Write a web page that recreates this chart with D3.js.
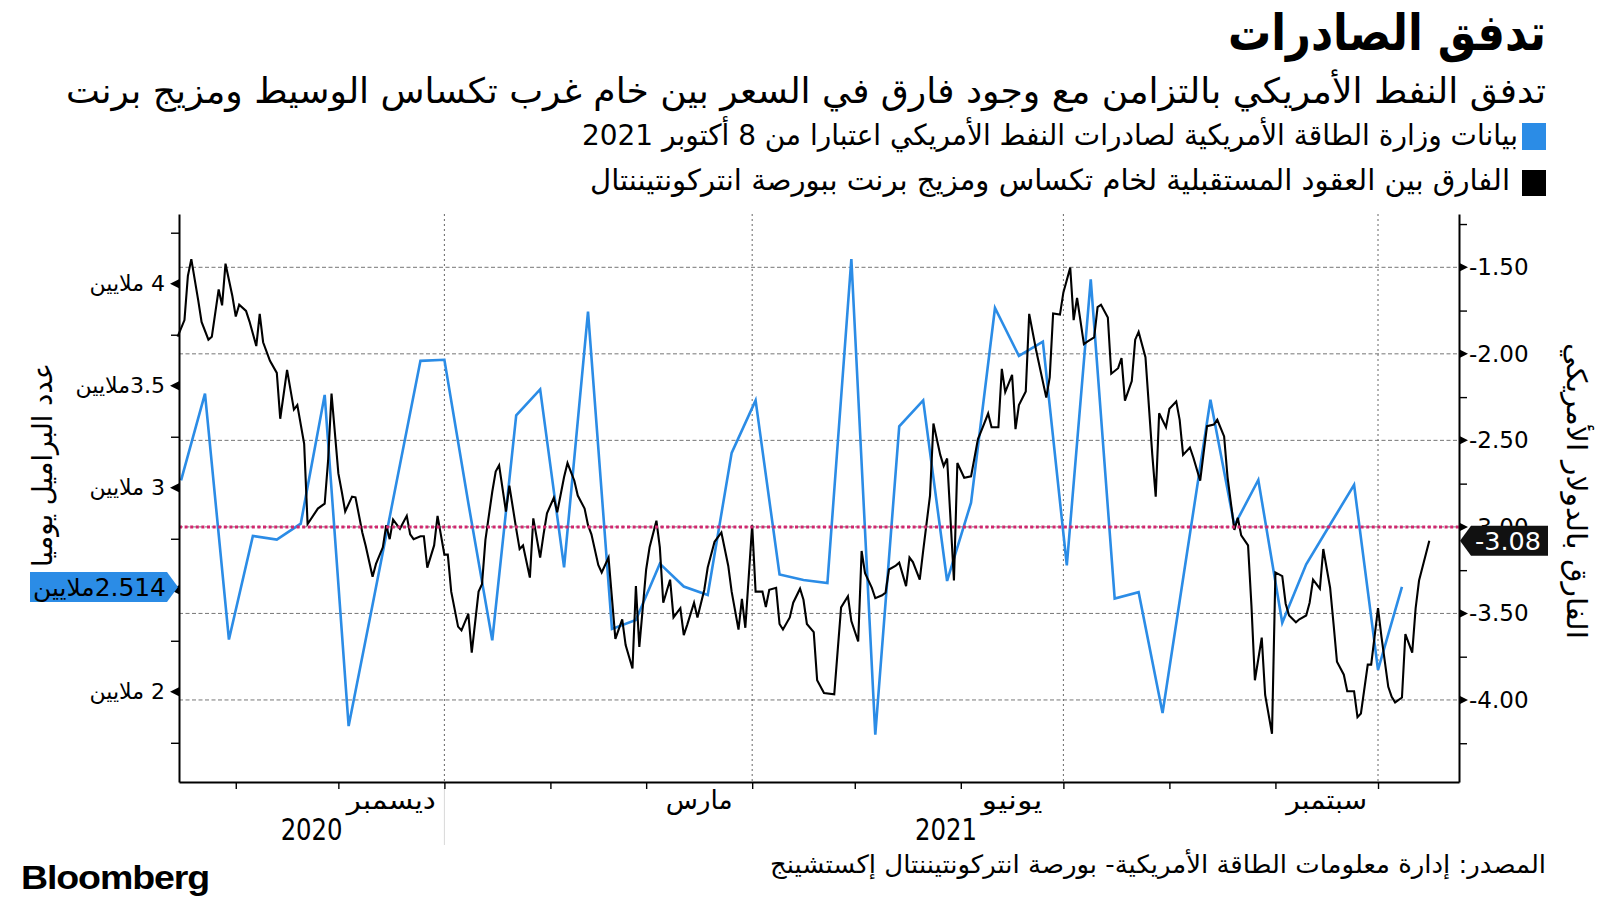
<!DOCTYPE html>
<html><head><meta charset="utf-8">
<script src="https://cdn.jsdelivr.net/npm/d3@7"></script>
<style>
body{margin:0;background:#fff;}
svg{display:block;}
text{font-family:"DejaVu Sans",sans-serif;}
.rtl{direction:rtl;unicode-bidi:embed;}
</style></head><body>
<svg id="chart" width="1600" height="900"></svg>
<script>
// ---------- DATA ----------
const exportDates = ["2020-10-16","2020-10-23","2020-10-30","2020-11-06","2020-11-13","2020-11-20","2020-11-27","2020-12-04","2020-12-11","2020-12-18","2020-12-25",
"2021-01-01","2021-01-08","2021-01-15","2021-01-22","2021-01-29","2021-02-05","2021-02-12","2021-02-19","2021-02-26","2021-03-05","2021-03-12","2021-03-19","2021-03-26",
"2021-04-02","2021-04-09","2021-04-16","2021-04-23","2021-04-30","2021-05-07","2021-05-14","2021-05-21","2021-05-28","2021-06-04","2021-06-11","2021-06-18","2021-06-25",
"2021-07-02","2021-07-09","2021-07-16","2021-07-23","2021-07-30","2021-08-06","2021-08-13","2021-08-20","2021-08-27","2021-09-03","2021-09-10","2021-09-17","2021-09-24",
"2021-10-01","2021-10-08"];
const exportValues = [3.036,3.461,2.256,2.764,2.746,2.824,3.455,1.832,2.427,3.027,3.622,3.627,2.925,2.252,3.355,3.482,2.610,3.863,2.308,2.352,
2.628,2.516,2.474,3.171,3.428,2.575,2.548,2.533,4.121,1.790,3.301,3.428,2.543,2.927,3.881,3.646,3.716,2.619,4.021,2.457,
2.488,1.896,2.664,3.431,2.815,3.038,2.338,2.625,2.820,3.014,2.107,2.514];

const spreadDates = [
"2020-10-15","2020-10-17","2020-10-18","2020-10-19","2020-10-21","2020-10-22","2020-10-24","2020-10-25","2020-10-27","2020-10-28","2020-10-29","2020-10-31",
"2020-11-01","2020-11-02","2020-11-04","2020-11-05","2020-11-07","2020-11-08","2020-11-09","2020-11-11","2020-11-13","2020-11-14","2020-11-16","2020-11-18","2020-11-19","2020-11-21","2020-11-22","2020-11-25","2020-11-27","2020-11-28","2020-11-29",
"2020-12-01","2020-12-02","2020-12-03","2020-12-05","2020-12-06","2020-12-08","2020-12-09","2020-12-11","2020-12-12","2020-12-14","2020-12-15","2020-12-16","2020-12-17","2020-12-19","2020-12-21","2020-12-22","2020-12-23","2020-12-25","2020-12-26","2020-12-27","2020-12-29","2020-12-30",
"2021-01-01","2021-01-02","2021-01-03","2021-01-05","2021-01-06","2021-01-08","2021-01-09","2021-01-11","2021-01-12","2021-01-13","2021-01-15","2021-01-16","2021-01-17","2021-01-19","2021-01-20","2021-01-22","2021-01-23","2021-01-24","2021-01-26","2021-01-27","2021-01-29","2021-01-30","2021-01-31",
"2021-02-02","2021-02-03","2021-02-05","2021-02-06","2021-02-08","2021-02-09","2021-02-11","2021-02-12","2021-02-13","2021-02-15","2021-02-16","2021-02-18","2021-02-20","2021-02-22","2021-02-23","2021-02-25","2021-02-26","2021-02-27",
"2021-03-01","2021-03-02","2021-03-04","2021-03-05","2021-03-06","2021-03-08","2021-03-09","2021-03-11","2021-03-12","2021-03-13","2021-03-15","2021-03-16","2021-03-18","2021-03-19","2021-03-21","2021-03-23","2021-03-25","2021-03-26","2021-03-28","2021-03-29","2021-03-30",
"2021-04-01","2021-04-02","2021-04-04","2021-04-05","2021-04-06","2021-04-08","2021-04-09","2021-04-10","2021-04-12","2021-04-13","2021-04-15","2021-04-16","2021-04-17","2021-04-19","2021-04-20","2021-04-22","2021-04-25","2021-04-26","2021-04-27","2021-04-29","2021-04-30",
"2021-05-02","2021-05-03","2021-05-04","2021-05-06","2021-05-07","2021-05-09","2021-05-10","2021-05-11","2021-05-13","2021-05-14","2021-05-16","2021-05-17","2021-05-18","2021-05-20","2021-05-21","2021-05-23","2021-05-24","2021-05-26","2021-05-27","2021-05-28","2021-05-30","2021-05-31",
"2021-06-02","2021-06-04","2021-06-06","2021-06-07","2021-06-09","2021-06-10","2021-06-12","2021-06-13","2021-06-14","2021-06-16","2021-06-17","2021-06-18","2021-06-20","2021-06-21","2021-06-23","2021-06-26","2021-06-27","2021-06-28","2021-06-30",
"2021-07-01","2021-07-03","2021-07-04","2021-07-05","2021-07-07","2021-07-08","2021-07-10","2021-07-11","2021-07-12","2021-07-14","2021-07-15","2021-07-17","2021-07-18","2021-07-19","2021-07-21","2021-07-22","2021-07-23","2021-07-25","2021-07-27","2021-07-28","2021-07-29","2021-07-31",
"2021-08-01","2021-08-03","2021-08-04","2021-08-05","2021-08-07","2021-08-08","2021-08-10","2021-08-11","2021-08-12","2021-08-14","2021-08-15","2021-08-17","2021-08-18","2021-08-20","2021-08-21","2021-08-22","2021-08-24","2021-08-25","2021-08-26","2021-08-28","2021-08-29","2021-08-31",
"2021-09-01","2021-09-03","2021-09-04","2021-09-05","2021-09-07","2021-09-08","2021-09-10","2021-09-11","2021-09-12","2021-09-14","2021-09-15","2021-09-17","2021-09-18","2021-09-19","2021-09-21","2021-09-22","2021-09-24","2021-09-25","2021-09-26","2021-09-28","2021-09-29",
"2021-10-01","2021-10-02","2021-10-04","2021-10-05","2021-10-06","2021-10-08","2021-10-09","2021-10-11","2021-10-12","2021-10-13","2021-10-16"];
const spreadValues = [
-1.901,-1.805,-1.549,-1.453,-1.688,-1.816,-1.918,-1.901,-1.628,-1.720,-1.479,-1.666,
-1.784,-1.716,-1.752,-1.812,-1.955,-1.769,-1.933,-2.040,-2.110,-2.375,-2.093,-2.322,-2.296,-2.520,-2.983,-2.894,-2.866,-2.616,-2.230,
-2.691,-2.797,-2.911,-2.825,-2.829,-3.032,-3.111,-3.288,-3.214,-3.118,-2.990,-3.071,-2.958,-3.011,-2.936,-3.043,-3.071,-3.054,-3.054,-3.235,-3.107,-2.936,
-3.160,-3.160,-3.374,-3.576,-3.598,-3.502,-3.726,-3.374,-3.331,-3.075,-2.797,-2.680,-2.644,-2.911,-2.761,-3.011,-3.128,-3.107,-3.293,-2.951,-3.177,-3.043,-2.921,
-2.832,-2.915,-2.712,-2.631,-2.733,-2.819,-2.894,-2.990,-3.043,-3.220,-3.263,-3.177,-3.647,-3.534,-3.683,-3.818,-3.342,-3.694,
-3.246,-3.118,-2.964,-3.118,-3.438,-3.305,-3.523,-3.470,-3.625,-3.566,-3.438,-3.523,-3.363,-3.235,-3.086,-3.032,-3.224,-3.374,-3.593,-3.416,-3.583,
-2.990,-3.374,-3.374,-3.463,-3.363,-3.352,-3.561,-3.593,-3.523,-3.438,-3.357,-3.421,-3.561,-3.608,-3.886,-3.960,-3.967,-3.715,-3.465,-3.401,-3.544,
-3.662,-3.139,-3.267,-3.352,-3.412,-3.395,-3.380,-3.246,-3.224,-3.207,-3.342,-3.177,-3.203,-3.305,-3.139,-2.819,-2.403,-2.584,-2.648,-2.605,-3.310,-2.631,
-2.716,-2.708,-2.494,-2.445,-2.345,-2.424,-2.424,-2.087,-2.221,-2.121,-2.435,-2.296,-2.217,-1.769,-1.976,-2.253,-2.136,-1.767,-1.773,
-1.645,-1.502,-1.805,-1.677,-1.944,-1.929,-1.905,-1.730,-1.716,-1.790,-2.115,-2.083,-2.025,-2.270,-2.157,-1.918,-1.873,-2.019,-2.584,-2.825,-2.343,-2.424,
-2.317,-2.275,-2.381,-2.584,-2.541,-2.599,-2.733,-2.573,-2.418,-2.409,-2.381,-2.477,-2.712,-3.017,-2.947,-3.049,-3.107,-3.459,-3.886,-3.640,-3.971,-4.195,
-3.263,-3.284,-3.444,-3.512,-3.551,-3.534,-3.512,-3.438,-3.305,-3.357,-3.128,-3.352,-3.561,-3.779,-3.854,-3.950,-3.950,-4.099,-4.078,-3.796,-3.796,
-3.470,-3.634,-3.924,-3.982,-4.014,-3.986,-3.619,-3.726,-3.470,-3.310,-3.080];

const leftMajorTicks = [2, 2.5, 3, 3.5, 4];
const leftLabelTicks = [2, 3, 3.5, 4];
const leftMajorLabels = ["2 ملايين", "3 ملايين", "3.5ملايين", "4 ملايين"];
const leftMinorTicks = [1.75, 2.25, 2.75, 3.25, 3.75, 4.25];
const rightMajorTicks = [-4, -3.5, -3, -2.5, -2, -1.5];
const rightMajorLabels = ["-4.00", "-3.50", "-3.00", "-2.50", "-2.00", "-1.50"];
const rightMinorTicks = [-4.25, -3.75, -3.25, -2.75, -2.25, -1.75, -1.25];
const monthTickDates = ["2020-11-01","2020-12-01","2021-01-01","2021-02-01","2021-03-01","2021-04-01","2021-05-01","2021-06-01","2021-07-01","2021-08-01","2021-09-01","2021-10-01"];
const gridDates = ["2021-01-01","2021-04-01","2021-07-01","2021-10-01"];
const monthLabelMonths = ["2020-12","2021-03","2021-06","2021-09"];
const monthLabels = ["ديسمبر","مارس","يونيو","سبتمبر"];
const yearLabels = ["2020","2021"];
const yearUnderMonth = [0, 2];
const referenceLevel = -3.00;
const lastExportLabel = "2.514ملايين";
const lastSpreadLabel = "-3.08";

const titleText = "تدفق الصادرات";
const subtitleText = "تدفق النفط الأمريكي بالتزامن مع وجود فارق في السعر بين خام غرب تكساس الوسيط ومزيج برنت";
const legendTexts = ["بيانات وزارة الطاقة الأمريكية لصادرات النفط الأمريكي اعتبارا من 8 أكتوبر 2021",
                     "الفارق بين العقود المستقبلية لخام تكساس ومزيج برنت ببورصة انتركونتيننتال"];
const leftAxisTitle = "عدد البراميل يوميا";
const rightAxisTitle = "الفارق بالدولار الأمريكي";
const sourceText = "المصدر: إدارة معلومات الطاقة الأمريكية- بورصة انتركونتيننتال إكستشينج";

// ---------- SETUP ----------
const BLUE = "#2b8ce6", RED = "#d2266f";
const parse = d3.utcParse("%Y-%m-%d");
const svg = d3.select("#chart");
const P = {left:179, right:1459, top:214, bottom:782};

const x = d3.scaleUtc()
  .domain([new Date(Date.UTC(2020,9,15,9,36)), new Date(Date.UTC(2021,9,24,16,20))])
  .range([P.left, P.right]);
const yL = d3.scaleLinear().domain([1.5578, 4.3417]).range([P.bottom, P.top]);
const yR = d3.scaleLinear().domain([-4.474, -1.192]).range([P.bottom, P.top]);

function rtext(parent, str, xRight, y, size, opts = {}) {
  const t = parent.append("text")
    .attr("class", "rtl").attr("x", xRight).attr("y", y)
    .attr("text-anchor", "start")
    .attr("font-size", size)
    .attr("font-weight", opts.weight || "normal")
    .attr("fill", opts.fill || "#000")
    .text(str);
  if (opts.family) t.style("font-family", opts.family);
  if (opts.len) t.attr("textLength", opts.len).attr("lengthAdjust", "spacingAndGlyphs");
  if (opts.baseline) t.attr("dominant-baseline", opts.baseline);
  const b = t.node().getBBox();
  const dx = xRight - (b.x + b.width);
  t.attr("x", xRight + dx);
  return t;
}

// ---------- GRIDLINES ----------
const grid = svg.append("g");
grid.selectAll("line.h").data(rightMajorTicks).join("line")
  .attr("x1", P.left).attr("x2", P.right)
  .attr("y1", d => yR(d)).attr("y2", d => yR(d))
  .attr("stroke", "#666").attr("stroke-width", 0.9).attr("stroke-dasharray", "4,2.5");
grid.selectAll("line.v").data(gridDates).join("line")
  .attr("x1", d => x(parse(d))).attr("x2", d => x(parse(d)))
  .attr("y1", P.top).attr("y2", P.bottom)
  .attr("stroke", "#666").attr("stroke-width", 1).attr("stroke-dasharray", "2,3");
svg.append("line")
  .attr("x1", x(parse("2021-01-01"))).attr("x2", x(parse("2021-01-01")))
  .attr("y1", P.bottom + 6).attr("y2", 845)
  .attr("stroke", "#d8d8d8").attr("stroke-width", 1);

// ---------- LINES ----------
const exportData = exportDates.map((d, i) => ({date: parse(d), value: exportValues[i]}));
const spreadData = spreadDates.map((d, i) => ({date: parse(d), value: spreadValues[i]}));

svg.append("path").datum(exportData)
  .attr("fill", "none").attr("stroke", BLUE).attr("stroke-width", 2.6)
  .attr("stroke-linejoin", "miter")
  .attr("d", d3.line().x(d => x(d.date)).y(d => yL(d.value)));

svg.append("path").datum(spreadData)
  .attr("fill", "none").attr("stroke", "#000").attr("stroke-width", 2.1)
  .attr("stroke-linejoin", "miter")
  .attr("d", d3.line().x(d => x(d.date)).y(d => yR(d.value)));

svg.append("line")
  .attr("x1", P.left).attr("x2", P.right)
  .attr("y1", yR(referenceLevel)).attr("y2", yR(referenceLevel))
  .attr("stroke", RED).attr("stroke-width", 3).attr("stroke-dasharray", "3,2.6");

// ---------- AXES ----------
const axisStyle = g => {
  g.select(".domain").attr("stroke", "#000").attr("stroke-width", 2);
  g.selectAll(".tick line").attr("stroke", "#000").attr("stroke-width", 1.4);
  g.selectAll(".tick text").remove();
};
svg.append("g").attr("transform", `translate(${P.left},0)`)
  .call(d3.axisLeft(yL).tickValues(leftMinorTicks).tickSize(8).tickSizeOuter(0).tickFormat(""))
  .call(axisStyle);
svg.append("g").attr("transform", `translate(${P.right},0)`)
  .call(d3.axisRight(yR).tickValues(rightMinorTicks).tickSize(8).tickSizeOuter(0).tickFormat(""))
  .call(axisStyle);
svg.append("g").attr("transform", `translate(0,${P.bottom})`)
  .call(d3.axisBottom(x).tickValues(monthTickDates.map(parse)).tickSize(7).tickSizeOuter(0).tickFormat(""))
  .call(axisStyle);

svg.selectAll("path.ltri").data(leftMajorTicks).join("path")
  .attr("d", d => `M${P.left},${yL(d)-4.5} L${P.left-9},${yL(d)} L${P.left},${yL(d)+4.5} Z`)
  .attr("fill", "#000");
svg.selectAll("path.rtri").data(rightMajorTicks).join("path")
  .attr("d", d => `M${P.right},${yR(d)-4.5} L${P.right+9},${yR(d)} L${P.right},${yR(d)+4.5} Z`)
  .attr("fill", "#000");

leftLabelTicks.forEach((v, i) => {
  rtext(svg, leftMajorLabels[i], 165, yL(v), 22, {baseline: "central"});
});
svg.selectAll("text.rl").data(rightMajorTicks).join("text")
  .attr("x", P.right + 10).attr("y", d => yR(d))
  .attr("dominant-baseline", "central").attr("font-size", 23)
  .text((d, i) => rightMajorLabels[i]);

const monthCenters = monthLabelMonths.map(m => {
  const s = d3.utcParse("%Y-%m")(m);
  const e = d3.utcMonth.offset(s, 1);
  return new Date((s.getTime() + e.getTime()) / 2);
});
const mLens = [89, 67, 61, 81];
const mNodes = monthLabels.map((lab, i) =>
  svg.append("text").attr("x", x(monthCenters[i])).attr("y", 809)
    .attr("text-anchor", "middle").attr("font-size", 26)
    .attr("textLength", mLens[i]).attr("lengthAdjust", "spacingAndGlyphs")
    .text(lab));
yearLabels.forEach((yl, i) => {
  const b = mNodes[yearUnderMonth[i]].node().getBBox();
  svg.append("text").attr("x", b.x - 2).attr("y", 840)
    .attr("text-anchor", "end").attr("font-size", 31)
    .attr("textLength", 62).attr("lengthAdjust", "spacingAndGlyphs")
    .text(yl);
});

svg.append("text").attr("class", "rtl")
  .attr("transform", `translate(42,465) rotate(-90)`)
  .attr("text-anchor", "middle").attr("dominant-baseline", "central")
  .attr("font-size", 28).attr("textLength", 204).attr("lengthAdjust", "spacingAndGlyphs")
  .text(leftAxisTitle);
svg.append("text").attr("class", "rtl")
  .attr("transform", `translate(1576,491) rotate(90)`)
  .attr("text-anchor", "middle").attr("dominant-baseline", "central")
  .attr("font-size", 28).attr("textLength", 296).attr("lengthAdjust", "spacingAndGlyphs")
  .text(rightAxisTitle);

// ---------- END TAGS ----------
const lastE = exportData[exportData.length - 1];
const ty = yL(lastE.value);
svg.append("path")
  .attr("d", `M30,${ty-15} H167 L${P.left-1},${ty} L167,${ty+15} H30 Z`)
  .attr("fill", BLUE);
rtext(svg, lastExportLabel, 166, ty + 1, 24, {baseline: "central", len: 133});

const lastS = spreadData[spreadData.length - 1];
const sy = yR(lastS.value);
svg.append("path")
  .attr("d", `M${P.right+1},${sy} L${P.right+12},${sy-15} H1548 V${sy+15} H${P.right+12} Z`)
  .attr("fill", "#111");
svg.append("text").attr("x", 1475).attr("y", sy + 1)
  .attr("dominant-baseline", "central").attr("font-size", 25).attr("fill", "#fff")
  .attr("textLength", 66).attr("lengthAdjust", "spacingAndGlyphs")
  .text(lastSpreadLabel);

// ---------- TITLES / LEGEND / FOOTER ----------
rtext(svg, titleText, 1546, 50, 50, {weight: "bold", len: 318});
rtext(svg, subtitleText, 1546, 103, 35, {len: 1480});
svg.append("rect").attr("x", 1522).attr("y", 123).attr("width", 24).attr("height", 27).attr("fill", BLUE);
svg.append("rect").attr("x", 1522).attr("y", 170).attr("width", 24).attr("height", 26).attr("fill", "#000");
rtext(svg, legendTexts[0], 1518, 145, 29, {len: 936});
rtext(svg, legendTexts[1], 1510, 190, 29, {len: 920});
rtext(svg, sourceText, 1546, 873, 25, {len: 776});
svg.append("text").attr("x", 21).attr("y", 889)
  .attr("font-size", 34).attr("font-weight", "bold")
  .style("font-family", "'Liberation Sans', Arial, sans-serif")
  .attr("textLength", 188).attr("lengthAdjust", "spacingAndGlyphs")
  .attr("letter-spacing", "-1")
  .text("Bloomberg");
</script>
</body></html>
